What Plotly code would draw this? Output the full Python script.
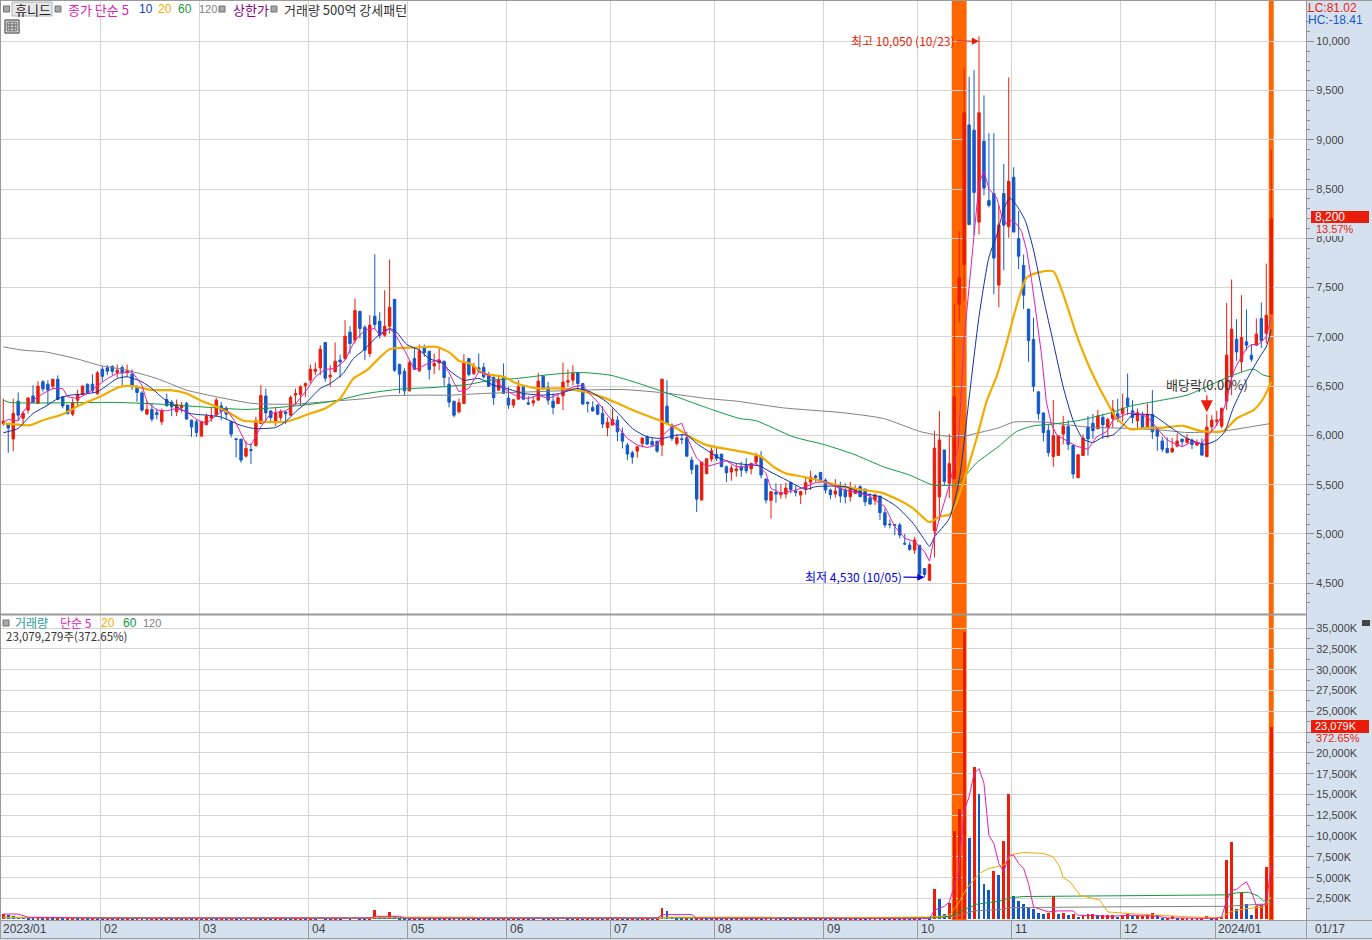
import plotly.graph_objects as go

W, H = 1372, 940
PLOT_W, PLOT_H = 1306, 920

open_ = [6122,6115,5965,6348,6175,6257,6400,6325,6545,6520,6500,6570,6390,6308,6216,6358,6415,6520,6520,6422,
6672,6686,6700,6640,6690,6640,6622,6487,6432,6216,6264,6230,6139,6365,6338,6240,6284,6325,6155,6139,
5993,6108,6176,6206,6300,6277,6139,5966,5963,5790,5855,5895,6122,6400,6247,6139,6182,6237,6206,6410,
6415,6503,6561,6652,6686,6943,6595,6645,6764,6780,7048,6967,7260,7098,6831,7210,7159,7017,7108,7382,
6720,6652,6453,6780,6656,6899,6855,6706,6737,6754,6520,6348,6240,6324,6781,6629,6686,6690,6612,6588,
6460,6601,6379,6308,6368,6493,6331,6331,6358,6601,6487,6348,6324,6402,6541,6561,6635,6527,6334,6284,
6308,6223,6081,6105,6155,6024,5902,5824,5841,5919,5986,5939,5942,5902,6297,6105,5919,5966,5976,5750,
5699,5344,5611,5760,5807,5811,5682,5628,5642,5682,5696,5662,5730,5784,5557,5341,5422,5398,5405,5523,
5436,5395,5459,5527,5588,5625,5547,5446,5405,5473,5446,5378,5412,5480,5456,5365,5344,5385,5216,5101,
5094,5091,4905,4888,4837,4886,4650,4530,5033,5375,5853,5514,5560,7327,7733,9150,9098,8165,8985,8383,
8455,7526,8455,8120,8620,7996,7725,7282,6973,6443,6229,6052,5785,5796,6014,6090,5898,5571,5796,6086,
6124,6067,6184,6086,6172,6221,6223,6379,6250,6149,6206,6081,6213,6061,5943,5868,5831,5892,5963,5929,
5953,5902,5919,5784,6088,6145,6095,6348,6595,6977,6747,6950,6815,6916,7186,7034,7237]
high = [6375,6120,6375,6436,6247,6390,6510,6550,6560,6560,6570,6610,6400,6308,6375,6466,6510,6527,6620,6655,
6703,6713,6713,6720,6713,6720,6670,6510,6452,6348,6325,6274,6274,6425,6358,6365,6340,6340,6162,6162,
6145,6223,6290,6382,6340,6297,6150,5966,5963,5946,5919,6190,6510,6476,6257,6290,6264,6247,6405,6476,
6510,6537,6720,6740,6916,6943,6713,6943,6821,7170,7108,7389,7260,7119,7220,7839,7250,7473,7785,7382,
6730,6680,6764,6882,6923,6923,6855,6831,6882,6754,6595,6348,6375,6825,6781,6737,6831,6737,6645,6601,
6601,6730,6493,6372,6561,6510,6399,6392,6635,6612,6544,6426,6409,6740,6669,6713,6635,6527,6348,6348,
6318,6297,6183,6274,6196,6078,5926,5845,5885,5980,6000,5980,5942,6571,6561,6122,6013,6013,6037,5784,
5699,5730,5763,5878,5875,5811,5696,5699,5709,5733,5770,5723,5824,5841,5564,5436,5513,5507,5520,5530,
5490,5439,5574,5642,5601,5625,5564,5459,5557,5530,5513,5530,5496,5496,5456,5412,5412,5385,5260,5148,
5094,5114,5000,4922,4973,4886,4650,4700,6048,6247,5853,6014,7338,8071,9726,9639,9707,10050,9451,9068,
9068,8334,8755,9632,8722,8278,7834,7282,7195,6443,6229,6116,6360,5996,6199,6154,5898,5804,6011,6199,
6218,6259,6221,6180,6360,6372,6426,6628,6358,6274,6240,6324,6460,6081,5986,5980,5976,6020,5963,6013,
5970,5959,5970,6216,6206,6250,6284,7345,7582,7180,7423,7278,6923,7186,7349,7744,8900]
low = [6098,5825,5840,6150,6120,6223,6335,6325,6443,6308,6466,6358,6275,6220,6196,6300,6410,6425,6432,6415,
6545,6612,6612,6588,6510,6595,6460,6340,6240,6216,6140,6162,6105,6297,6196,6196,6230,6162,5986,5986,
5993,6108,6139,6190,6155,6162,5980,5777,5723,5777,5710,5895,6115,6128,6128,6095,6150,6115,6200,6308,
6308,6392,6527,6612,6612,6544,6493,6645,6585,6764,6830,6933,6983,6764,6798,7085,6983,7000,7034,6645,
6426,6409,6443,6662,6645,6798,6568,6622,6662,6503,6284,6182,6223,6321,6600,6612,6645,6578,6493,6311,
6450,6426,6270,6280,6368,6358,6311,6297,6358,6460,6311,6216,6318,6257,6493,6510,6443,6318,6233,6240,
6206,6074,5993,6105,5942,5868,5750,5713,5774,5878,5902,5902,5824,5790,6111,5946,5895,5912,5784,5608,
5223,5344,5611,5733,5743,5682,5527,5540,5581,5581,5615,5605,5699,5564,5310,5155,5317,5358,5361,5412,
5381,5304,5398,5446,5530,5530,5412,5354,5368,5317,5310,5327,5412,5378,5283,5294,5294,5141,5064,5057,
4989,4955,4888,4830,4797,4575,4560,4530,4762,5138,5496,5364,5560,7150,7365,8139,8034,8041,8436,8315,
7432,7300,7676,8007,8064,7688,7282,6748,6443,6161,5939,5785,5684,5796,5909,5853,5560,5571,5796,5796,
5965,6067,5965,5973,6078,6135,6139,6206,6122,6064,6064,6071,5963,5845,5834,5824,5831,5878,5885,5919,
5861,5895,5800,5784,6037,6095,6071,6257,6409,6757,6645,6865,6747,6909,6889,6933,7220]
close = [6145,6075,6223,6206,6223,6380,6335,6500,6473,6460,6570,6365,6300,6220,6330,6415,6500,6432,6453,6635,
6600,6652,6652,6662,6635,6655,6510,6436,6257,6264,6166,6213,6247,6300,6290,6315,6308,6166,6085,6030,
6139,6196,6200,6358,6247,6216,6013,5960,5750,5868,5848,6148,6406,6230,6182,6223,6240,6220,6385,6425,
6493,6527,6672,6672,6875,6581,6612,6754,6747,7007,6933,7267,7085,6865,7119,7125,7017,7108,7301,6662,
6622,6453,6737,6672,6858,6842,6669,6730,6764,6588,6338,6206,6331,6737,6619,6703,6652,6595,6500,6382,
6568,6426,6308,6362,6493,6368,6318,6352,6551,6477,6358,6284,6382,6541,6554,6629,6527,6318,6324,6250,
6216,6115,6132,6162,6037,5942,5811,5780,5885,5973,5912,5902,5841,6571,6122,5970,5976,5959,5790,5655,
5354,5730,5763,5845,5767,5682,5621,5669,5659,5648,5642,5716,5790,5598,5344,5429,5405,5419,5466,5452,
5422,5432,5520,5577,5571,5537,5446,5398,5436,5385,5378,5469,5446,5378,5327,5304,5395,5216,5091,5094,
5087,4989,4898,4844,4939,4593,4590,4690,5871,5954,5533,5714,6394,7601,9274,8139,8466,9274,8511,8334,
7800,8135,8135,8579,8064,7819,7424,6962,6500,6221,6029,5826,5996,5996,6097,5909,5608,5804,5973,5965,
6048,6199,6109,6161,6266,6172,6277,6297,6182,6230,6071,6213,6037,5993,5861,5824,5868,5943,5936,5970,
5909,5926,5800,6084,6155,6155,6274,6815,7078,6848,6994,6916,6774,7028,6960,7220,8200]

# volume in thousands of shares
volume = [600,480,420,300,250,180,150,170,140,160,130,150,120,140,160,130,150,120,170,140,
130,160,120,150,130,140,120,150,130,110,120,140,110,130,120,140,110,130,100,120,
110,130,120,100,130,110,140,120,110,130,120,140,110,130,100,120,140,130,120,140,
150,130,170,140,300,150,130,160,140,300,150,300,160,140,180,1100,320,260,850,450,
220,180,160,190,150,170,140,160,130,150,130,140,120,150,130,140,110,130,120,140,
110,130,100,120,110,130,120,100,300,140,120,140,130,300,160,130,140,120,130,110,
130,120,140,110,130,120,100,130,110,120,140,120,150,1350,1000,300,200,170,190,150,
170,220,200,160,180,140,160,130,150,120,140,110,130,120,140,110,130,120,100,120,
110,130,100,120,110,130,100,120,110,130,100,120,110,130,100,120,140,120,150,130,
150,130,160,140,170,150,250,200,
3690,2490,680,2000,10590,13300,34490,9820,18290,15040,4290,3570,5770,5290,9380,15040,2770,2170,1800,1400,
1200,720,600,760,2770,600,760,480,600,240,480,600,600,480,480,480,480,280,
480,600,360,360,360,480,720,480,160,160,360,160,160,160,160,160,160,360,160,160,280,
7100,9260,1280,3170,1880,480,1600,1680,6250,23079]
assert len(open_) == len(high) == len(low) == len(close) == len(volume) == 257

days = list(range(len(close)))

ma5_day = [0,1,3,4,6,8,10,12,13,15,17,19,21,23,26,28,29,31,33,35,37,39,41,43,45,47,49,50,52,54,57,59,61,63,65,67,69,71,73,75,76,78,79,81,83,84,86,88,90,91,92,94,96,98,100,102,104,106,108,110,112,115,117,118,120,122,124,126,128,130,132,133,135,137,138,140,142,144,146,148,150,152,154,155,157,160,162,164,166,168,170,173,175,176,178,180,182,184,186,187,188,189,190,191,192.8,194,195,196,197,198,199,200.6,201.6,202.6,203.6,204.6,205.6,206.6,207.6,208.6,209.6,210.6,211.6,212.7,214.7,216.7,219,220.7,222.8,224,227,229,231,233,235,238,240,242,243,245,246,247,248,249,251,252,253.4,255,256]
ma5_val = [6135,6162,6148,6240,6358,6425,6476,6476,6392,6375,6426,6500,6578,6630,6645,6510,6341,6257,6250,6274,6240,6162,6122,6206,6274,6122,5919,5902,6088,6223,6250,6318,6443,6595,6670,6680,6764,6967,7068,7085,7017,7085,7034,6865,6669,6686,6737,6771,6640,6535,6443,6477,6645,6612,6527,6443,6392,6375,6409,6375,6415,6493,6510,6443,6341,6206,6088,5970,5902,5878,5902,5993,6088,6122,5986,5767,5682,5716,5743,5682,5682,5716,5615,5463,5412,5446,5480,5523,5530,5480,5446,5412,5385,5344,5277,5074,4956,4922,4820,4725,4969,5157,5326,5495,5890,6980,7507,8034,8560,8680,8503,8410,8222,8146,8184,8146,8071,7883,7582,7206,6830,6341,6116,6004,5947,5890,5860,5984,6041,6154,6223,6223,6189,6071,5953,5885,5936,5919,5986,6105,6206,6358,6595,6713,6882,6923,6923,7000,7203]
ma10_day = [0,3,4,6,9,11,13.5,16,19,21,23,25,28,30,32.3,35,37.7,41,43.8,45.8,47.8,50.5,53,55,57,59,61,64,66,68.6,70.7,72.7,75.4,78,79.4,81.4,84,86,88.8,90,93,96,99,101.6,105,109,112.4,115.8,118.5,121.8,124.5,127,130,133,136,138,140,142,144.7,148,151.4,152.8,154.8,157.5,160,162,164,167,170,173.6,177,180.4,183.7,185.8,187,188,191,193,195,197,199,200.6,202,203.2,204.6,206.3,208,210,212,214,216,218,220,222,224,226,228,232,235.5,239,242.6,245,246.6,248.3,251,253.7,255,256]
ma10_val = [6027,6071,6122,6223,6308,6375,6409,6419,6443,6510,6578,6595,6544,6477,6375,6291,6223,6206,6189,6149,6105,6071,6071,6081,6139,6240,6325,6477,6527,6629,6781,6865,7000,7085,7048,6926,6865,6781,6730,6662,6561,6578,6510,6477,6426,6409,6426,6477,6443,6341,6206,6071,5986,5970,6003,6003,5919,5851,5767,5716,5699,5689,5632,5564,5496,5452,5480,5486,5480,5412,5378,5277,5108,4956,4875,4969,5157,5552,6379,7206,7808,8034,8297,8410,8334,8184,7883,7394,6943,6492,6154,5965,5928,5984,6003,6097,6206,6206,6088,5970,5909,5953,6037,6274,6561,6798,6899,7075]
ma20_day = [0,5.4,8,12,15.5,19.5,23.5,26.2,30,33.7,37,39.7,43,45.8,48.5,52,57.2,62,65,68,70.7,73.4,78,83.4,87.5,90.2,92,94.2,97,101,103.7,107.7,111.7,115.8,119.8,123.8,127.9,132.6,136,138.6,142,147.4,152.8,155.5,158,161.5,164.9,168.9,173,177,180.4,183.7,187,189,191,192.5,194,196.5,198.5,200.6,202.6,204.6,206.6,209.3,212,214,216.7,219.4,222,224.8,227.5,230.8,234,238.2,241.6,246.3,249,252.4,254.4,256]
ma20_val = [6122,6105,6155,6216,6308,6392,6493,6500,6460,6460,6426,6358,6291,6223,6149,6139,6139,6223,6274,6375,6578,6662,6875,6892,6899,6838,6757,6730,6629,6595,6527,6477,6477,6460,6409,6331,6240,6149,6071,5986,5902,5851,5790,5682,5615,5581,5540,5486,5452,5422,5354,5260,5120,5176,5195,5326,5552,5966,6341,6605,6943,7319,7601,7657,7665,7432,7018,6680,6417,6173,6064,6078,6078,6098,6047,6044,6172,6257,6375,6544]
ma60_day = [0,1.3,23,33,39.7,49,58.5,66.6,73.4,80,87,94.2,98.3,103.7,110.4,116.4,122.5,127.9,133.3,138.7,143.4,148.7,152,159.5,165.6,171.6,177.7,183,187.8,192.5,196.5,201,204.6,208,212,217.4,224,227.5,232,239,243.6,248.3,252.4,254.4,256]
ma60_val = [6358,6335,6335,6314,6291,6264,6297,6348,6426,6470,6487,6520,6561,6578,6618,6639,6612,6534,6443,6341,6257,6172,6149,5986,5909,5811,5682,5598,5496,5507,5721,5890,6041,6097,6116,6154,6236,6297,6341,6409,6510,6612,6673,6612,6595]
ma120_day = [0,4,8.4,14.8,19.5,25,31,37,42.4,50.5,58.5,66.6,73.4,77.4,84,90.2,97,107,117,125,133.3,142,148,157.5,169.6,177.7,185,187.8,193,196.5,201,204,210,218.7,227.5,234,239,246.3,251,256]
ma120_val = [6899,6865,6848,6778,6710,6662,6578,6460,6399,6324,6318,6348,6375,6402,6409,6409,6426,6443,6460,6466,6433,6375,6348,6280,6230,6172,6041,6011,5984,6022,6078,6135,6135,6086,6071,6054,6030,6044,6081,6122]

vma5_day = [0,3,5,20,74,75,80,81,132,133,139,140,186,187,188,190,191,192.8,194,195,196,197,198,199,200,201,202,203,204,205,206,207,208,210,211,213,216,217,224,227,233,235,245,246,247,248,249,250,251,252,253,254,255,256]
vma5_val = [620,620,250,130,130,360,360,130,130,560,560,130,100,100,1080,1560,2085,5490,13100,14700,17520,18120,16320,10100,9100,6700,5700,7700,7700,6700,6130,4290,1480,1080,880,1000,1000,480,360,480,360,160,100,280,2290,3490,3570,4090,4490,3290,1680,1680,1880,6500]
vma20_day = [0,10,20,74,76,95,97,132,134,155,157,187.8,191,192.8,194.5,197,199,202,203.6,206,210,212,213.3,214,215.4,217.4,221.4,223,227.5,233,239.6,246,247.7,250.4,254.4,256]
vma20_val = [200,230,140,130,250,250,130,130,250,250,130,280,480,1880,3690,5490,6100,6500,7780,8020,7900,7500,6300,5010,4490,2890,2290,880,680,480,280,200,880,1240,1480,2690]
vma60_day = [0,6,60,120,187,191,194.5,196.5,201,203.5,206,227.5,247,249,251.4,253.4,254.4,256]
vma60_val = [250,200,150,170,200,360,1280,1800,2170,2600,2730,2850,2930,3170,3250,2770,2200,2290]
vma120_day = [0,60,130,187.8,192.4,196,201,203.5,220.7,247,256]
vma120_val = [170,170,180,160,360,1000,1160,1400,1480,1560,1880]

month_start_day = [20,40,62,82,102,123,144,166,185,204,226,245]
month_labels = ["02","03","04","05","06","07","08","09","10","11","12","2024/01"]
first_label = "2023/01"
last_label = "01/17"
highlight_days = [(191.5, 194.5), (255.5, 256.5)]
price_ticks = [4500,5000,5500,6000,6500,7000,7500,8000,8500,9000,9500,10000]
volume_ticks = [2500*k for k in range(1, 15)]
volume_tick_text = ["" if v == 22500 else f"{v:,}K" for v in volume_ticks]

RED, BLUE = "#ea1c0a", "#1458c8"
MAG, NAVY, ORG, GRN, GRY = "#e020b4", "#1030a8", "#f0ac00", "#109a40", "#808080"
GRID = "#d4d4d4"
BAND = "#d6e1f0"
FONT = "Noto Sans CJK KR"
NUMFONT = "Liberation Sans"

vol_colors = [RED if i == 0 or volume[i] >= volume[i - 1] else BLUE for i in days]


def line(x, y, color, width, axis, smooth=False):
    style = dict(color=color, width=width)
    if smooth:
        style.update(shape="spline", smoothing=0.6)
    return go.Scatter(x=x, y=y, mode="lines", yaxis=axis, xaxis="x", hoverinfo="skip", showlegend=False, line=style)


fig = go.Figure()
fig.add_trace(go.Candlestick(x=days, open=open_, high=high, low=low, close=close, yaxis="y", xaxis="x",
                             whiskerwidth=0, showlegend=False,
                             increasing=dict(line=dict(color=RED, width=1), fillcolor=RED),
                             decreasing=dict(line=dict(color=BLUE, width=1), fillcolor=BLUE)))
fig.add_trace(line(ma120_day, ma120_val, GRY, 1, "y", True))
fig.add_trace(line(ma60_day, ma60_val, GRN, 1, "y", True))
fig.add_trace(line(ma20_day, ma20_val, ORG, 2.2, "y", True))
fig.add_trace(line(ma10_day, ma10_val, NAVY, 1, "y", True))
fig.add_trace(line(ma5_day, ma5_val, MAG, 1, "y"))
fig.add_trace(go.Bar(x=days, y=volume, yaxis="y2", xaxis="x", width=0.58, showlegend=False,
                     marker=dict(color=vol_colors, line=dict(width=0))))
fig.add_trace(line(vma120_day, vma120_val, GRY, 1, "y2"))
fig.add_trace(line(vma60_day, vma60_val, GRN, 1, "y2"))
fig.add_trace(line(vma20_day, vma20_val, ORG, 1, "y2"))
fig.add_trace(line(vma5_day, vma5_val, MAG, 1, "y2"))


def px(x):
    return x / PLOT_W


def py(y):
    return 1 - y / PLOT_H


def rect(x0, y0, x1, y1, fill=None, color=None, width=1, layer="above"):
    return dict(type="rect", xref="paper", yref="paper", x0=px(x0), x1=px(x1), y0=py(y0), y1=py(y1),
                fillcolor=fill or "rgba(0,0,0,0)", line=dict(color=color or "rgba(0,0,0,0)", width=width if color else 0),
                layer=layer)


def hl(x0, y0, x1, y1, color, width=1, layer="above"):
    return dict(type="line", xref="paper", yref="paper", x0=px(x0), x1=px(x1), y0=py(y0), y1=py(y1),
                line=dict(color=color, width=width), layer=layer)


shapes = [
    rect(1306, 0, 1372, 940, fill=BAND, layer="below"),
    rect(0, 920, 1372, 940, fill=BAND, layer="below"),
]
for a, b in highlight_days:
    shapes.append(dict(type="rect", xref="x", yref="paper", x0=a, x1=b, y0=0, y1=1, fillcolor="#ff6600",
                       line=dict(width=0), layer="below"))
shapes += [
    hl(0, 614.5, 1306, 614.5, "#9a9a9a", 2),
    hl(0.5, 0, 0.5, 938, "#9a9a9a", 1),
    hl(0, 0.5, 1372, 0.5, "#9a9a9a", 1),
    hl(0, 920.5, 1372, 920.5, "#9a9a9a", 1),
    hl(0, 938.5, 1372, 938.5, "#9a9a9a", 1),
    hl(1306.5, 0, 1306.5, 938, "#9a9a9a", 1),
    rect(12, 2, 52, 16, fill="#e8e8e8", color="#b0b0b0"),
    rect(5, 20, 19, 33, fill="#ffffff", color="#222222"),
    rect(7, 22, 17, 31, fill="#d0d0d0", color="#666666"),
    hl(7, 25, 17, 25, "#666666"), hl(7, 28, 17, 28, "#666666"),
    hl(10, 22, 10, 31, "#666666"), hl(14, 22, 14, 31, "#666666"),
    rect(1312, 223, 1369, 236, fill=BAND),
    rect(1312, 733, 1369, 745, fill=BAND),
    rect(1311, 211, 1369, 223, fill=RED),
    rect(1311, 720, 1369, 733, fill=RED),
    rect(1362, 620, 1370, 626, fill="#444444"),
]
for bx, by in [(6.5, 9), (58, 9), (222, 9), (274, 9), (6, 623)]:
    shapes.append(rect(bx - 3, by - 3, bx + 3, by + 3, fill="#a8a8a8", color="#707070"))


def label(x, y, text, color, size=13, family=FONT):
    return dict(xref="paper", yref="paper", x=px(x), y=py(y), text=text, showarrow=False, xanchor="left",
                yanchor="middle", borderpad=0, font=dict(family=family, size=size, color=color))


annotations = [
    label(14, 9, "휴니드", "#222222"),
    label(67, 9, "종가 단순 5", MAG),
    label(138, 9, "10", "#1040c0", 12, NUMFONT),
    label(157, 9, "20", ORG, 12, NUMFONT),
    label(177, 9, "60", GRN, 12, NUMFONT),
    label(198, 9, "120", GRY, 11, NUMFONT),
    label(232, 9, "상한가", "#8a008a"),
    label(283, 9, "거래량 500억 강세패턴", "#333333"),
    label(1307, 8, "LC:81.02", RED, 12, NUMFONT),
    label(1307, 20, "HC:-18.41", BLUE, 12, NUMFONT),
    label(1314, 217, "8,200", "#ffffff", 12, NUMFONT),
    label(1315, 229, "13.57%", RED, 11, NUMFONT),
    label(1314, 726, "23,079K", "#ffffff", 11, NUMFONT),
    label(1315, 738, "372.65%", RED, 11, NUMFONT),
    label(14, 622.5, "거래량", "#2a9a9a", 12),
    label(59, 622.5, "단순 5", MAG, 12),
    label(100, 622.5, "20", ORG, 12, NUMFONT),
    label(122, 622.5, "60", GRN, 12, NUMFONT),
    label(142, 622.5, "120", GRY, 11, NUMFONT),
    label(5, 636, "23,079,279주(372.65%)", "#333333", 11.5),
    label(2, 929, first_label, "#444444", 12, NUMFONT),
    label(1314, 929, last_label, "#444444", 12, NUMFONT),
    dict(x=197, y=10000, xref="x", yref="y", ax=-76, ay=-1, axref="pixel", ayref="pixel",
         text="최고 10,050 (10/23)", showarrow=True, arrowhead=2, arrowsize=1.2, arrowwidth=1.2, arrowcolor=RED,
         standoff=0, font=dict(family=FONT, size=12, color=RED)),
    dict(x=186, y=4560, xref="x", yref="y", ax=-71, ay=-1, axref="pixel", ayref="pixel",
         text="최저 4,530 (10/05)", showarrow=True, arrowhead=2, arrowsize=1.2, arrowwidth=1.2, arrowcolor="#0000e0",
         standoff=0, font=dict(family=FONT, size=12, color="#0000e0")),
    dict(x=243, y=6235, xref="x", yref="y", ax=0, ay=-28, axref="pixel", ayref="pixel",
         text="배당락(0.00%)", showarrow=True, arrowhead=2, arrowsize=2, arrowwidth=1.2, arrowcolor=RED,
         standoff=0, font=dict(family=FONT, size=13, color="#333333")),
]
for d, t in zip(month_start_day, month_labels):
    annotations.append(dict(x=d - 0.35, xref="x", y=py(929), yref="paper", text=t, showarrow=False, xanchor="left",
                            yanchor="middle", xshift=1, font=dict(family=NUMFONT, size=12, color="#444444")))

tick_font = dict(family=NUMFONT, size=11, color="#444444")
fig.update_layout(
    width=W, height=H, autosize=False, showlegend=False, bargap=0,
    margin=dict(l=0, r=W - PLOT_W, t=0, b=H - PLOT_H, pad=0),
    paper_bgcolor="#ffffff", plot_bgcolor="rgba(0,0,0,0)",
    shapes=shapes, annotations=annotations,
    font=dict(family=NUMFONT, size=11, color="#444444"),
    xaxis=dict(domain=[0, 1], anchor="y2", range=[-0.667, 263.02], rangeslider=dict(visible=False),
               tickmode="array", tickvals=[d - 0.35 for d in month_start_day], ticktext=month_labels,
               showticklabels=False, ticks="outside", ticklen=18, tickcolor="#9a9a9a", tickwidth=1,
               showgrid=True, gridcolor=GRID, gridwidth=1, zeroline=False, showline=False),
    yaxis=dict(domain=[1 - 614 / PLOT_H, 1], anchor="x", side="right", range=[4188, 10419],
               tickmode="array", tickvals=price_ticks, tickformat=",d", ticks="outside", ticklen=7,
               tickcolor="#8a8a8a", showgrid=True, gridcolor=GRID, gridwidth=1, zeroline=False, showline=False,
               minor=dict(tickvals=[v for v in range(4300, 10400, 100) if v % 500], ticks="outside", ticklen=3,
                          tickcolor="#8a8a8a", showgrid=False),
               tickfont=tick_font),
    yaxis2=dict(domain=[0, 1 - 615 / PLOT_H], anchor="x", side="right", range=[-90, 36571],
                tickmode="array", tickvals=volume_ticks, ticktext=volume_tick_text, ticks="outside", ticklen=7,
                tickcolor="#8a8a8a", showgrid=True, gridcolor=GRID, gridwidth=1, zeroline=False, showline=False,
                minor=dict(tickvals=[1250 + 2500 * k for k in range(14)], ticks="outside", ticklen=3,
                           tickcolor="#8a8a8a", showgrid=False),
                tickfont=tick_font),
)

fig.write_html("out.html", config=dict(displayModeBar=False),
               post_script="document.body.style.margin='0';document.body.style.overflow='hidden';")
